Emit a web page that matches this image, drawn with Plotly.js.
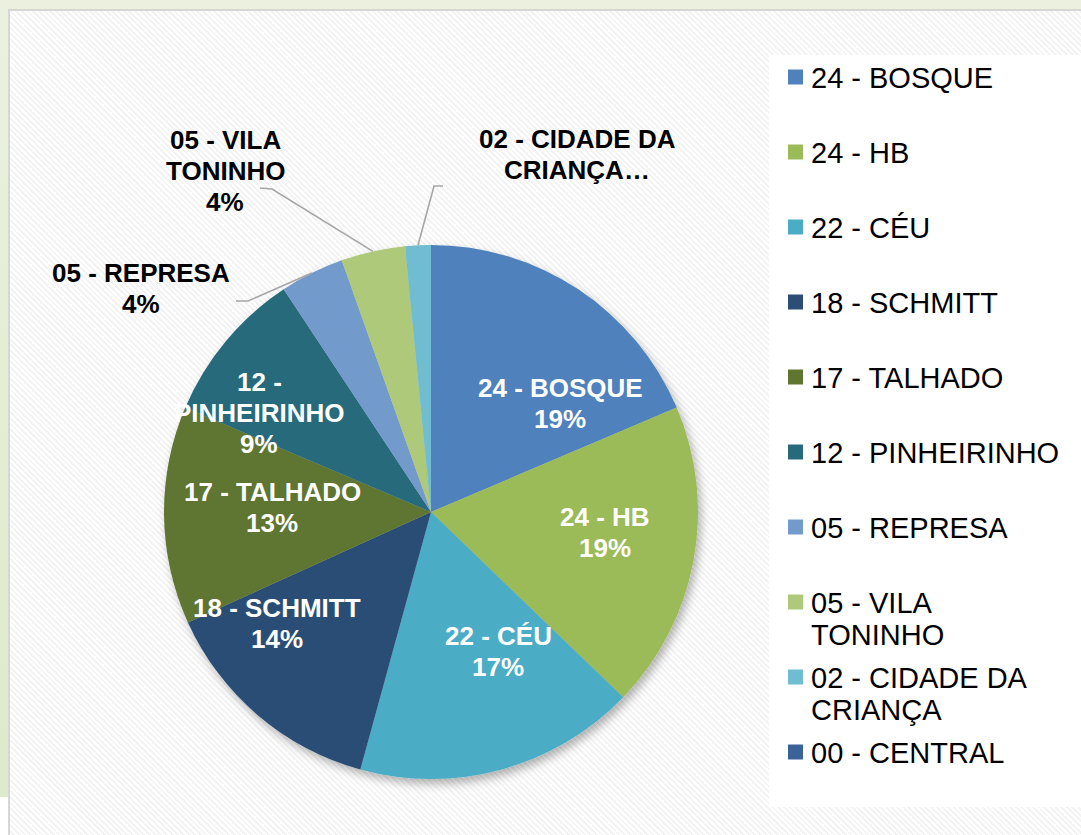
<!DOCTYPE html>
<html>
<head>
<meta charset="utf-8">
<script src="https://cdn.plot.ly/plotly-3.0.1.min.js"></script>
<style>
  html, body { margin: 0; padding: 0; width: 1081px; height: 835px; overflow: hidden; background: #ffffff; }
  #bgTop { position: absolute; left: 0; top: 0; width: 1081px; height: 9px; background: #ebf1de; }
  #bgLeft { position: absolute; left: 0; top: 0; width: 8px; height: 797px; background: linear-gradient(#ebf1de, #dfe9cb); }
  #panel { position: absolute; left: 8px; top: 9px; width: 1073px; height: 826px; box-sizing: border-box;
           border-left: 2px solid #d6d6d6; border-top: 2px solid #d6d6d6;
           background: repeating-linear-gradient(45deg, #ffffff 0px, #ffffff 2px, #f3f3f3 2px, #f3f3f3 4px); }
  #chart { position: absolute; left: 0; top: 0; width: 1081px; height: 835px; }
</style>
</head>
<body>
<div id="bgTop"></div>
<div id="bgLeft"></div>
<div id="panel"></div>
<div id="chart"></div>
<script>
// ---------------- DATA ----------------
const labels = ["24 - BOSQUE", "24 - HB", "22 - CÉU", "18 - SCHMITT", "17 - TALHADO",
                "12 - PINHEIRINHO", "05 - REPRESA", "05 - VILA TONINHO",
                "02 - CIDADE DA CRIANÇA", "00 - CENTRAL"];
const values = [24, 24, 22, 18, 17, 12, 5, 5, 2, 0];
const legendText = ["24 - BOSQUE", "24 - HB", "22 - CÉU", "18 - SCHMITT", "17 - TALHADO",
                    "12 - PINHEIRINHO", "05 - REPRESA", "05 - VILA<br>TONINHO",
                    "02 - CIDADE DA<br>CRIANÇA", "00 - CENTRAL"];
const sliceText = ["24 - BOSQUE", "24 - HB", "22 - CÉU", "18 - SCHMITT", "17 - TALHADO",
                   "12 -<br>PINHEIRINHO", "05 - REPRESA", "05 - VILA<br>TONINHO",
                   "02 - CIDADE DA<br>CRIANÇA…", ""];
const showPercent = [true, true, true, true, true, true, true, true, false, false];

// ---------------- STYLE / LAYOUT ----------------
const colors = ["#4f81bd", "#9bbb59", "#4bacc6", "#2c4d75", "#5f7530",
                "#276a7c", "#729aca", "#afc97a", "#6fbdd1", "#3a6499"];
const W = 1081, H = 835;
const CX = 431, CY = 512, R = 267;           // pie centre / radius in px
const inside = [true, true, true, true, true, true, false, false, false, false];
const labelPos = [[560, 403.5], [605, 532.5], [498, 651], [277, 623.5], [272, 507],
                  [259, 413], [141, 288.5], [225, 171], [577, 154.5], null];
const leaderElbow = {6: [[248, 301], [236, 301]], 7: [[272, 189], [260, 188]], 8: [[434, 186], [443, 186]]};
const FONT = "Liberation Sans, Arial, sans-serif";
const px = x => x / W;
const py = y => 1 - y / H;

const total = values.reduce((a, b) => a + b, 0);
const annotations = [];
const shapes = [];

function addLines(text, x, yCenter, spacing, opts) {
  const lines = text.split("<br>");
  lines.forEach((ln, k) => {
    const y = yCenter + (k - (lines.length - 1) / 2) * spacing;
    annotations.push(Object.assign({
      xref: "paper", yref: "paper", x: px(x), y: py(y), text: ln, showarrow: false,
      yanchor: "middle"
    }, opts));
  });
}

// pie labels
values.forEach((v, i) => {
  if (!labelPos[i]) return;
  let t = sliceText[i];
  if (showPercent[i]) t += "<br>" + Math.round(v / total * 100) + "%";
  addLines(t, labelPos[i][0], labelPos[i][1], 31, {
    xanchor: "center",
    font: {family: FONT, size: 26, weight: 700, color: inside[i] ? "#ffffff" : "#000000"}
  });
});

// leader lines (attached at slice mid-angle on the rim)
let cum = 0;
values.forEach((v, i) => {
  const mid = (cum + v / 2) / total * 2 * Math.PI;
  cum += v;
  if (!leaderElbow[i]) return;
  const sx = CX + R * Math.sin(mid), sy = CY - R * Math.cos(mid);
  const [e1, e2] = leaderElbow[i];
  shapes.push({
    type: "path", xref: "paper", yref: "paper", layer: "above",
    path: `M ${px(sx)} ${py(sy)} L ${px(e1[0])} ${py(e1[1])} L ${px(e2[0])} ${py(e2[1])}`,
    line: {color: "#a6a6a6", width: 1.6}
  });
});

// legend box + entries
shapes.push({type: "rect", xref: "paper", yref: "paper", layer: "below",
             x0: px(769), x1: px(1081), y0: py(55), y1: py(807),
             fillcolor: "#ffffff", line: {width: 0}});
labels.forEach((lab, i) => {
  const yc = 77 + i * 75;
  shapes.push({type: "rect", xref: "paper", yref: "paper", layer: "above",
               x0: px(788), x1: px(803), y0: py(yc - 7.5), y1: py(yc + 7.5),
               fillcolor: colors[i], line: {width: 0}});
  const lines = legendText[i].split("<br>");
  lines.forEach((ln, k) => {
    annotations.push({
      xref: "paper", yref: "paper", x: px(809), y: py(yc + 1 + k * 32), text: ln,
      showarrow: false, xanchor: "left", yanchor: "middle",
      font: {family: FONT, size: 29, color: "#000000"}
    });
  });
});

const data = [{
  type: "pie",
  labels: labels,
  values: values,
  sort: false,
  direction: "clockwise",
  rotation: 0,
  textinfo: "none",
  hoverinfo: "skip",
  marker: {colors: colors, line: {width: 0}},
  domain: {x: [px(CX - R), px(CX + R)], y: [py(CY + R), py(CY - R)]},
  showlegend: false
}];

const layout = {
  width: W, height: H,
  margin: {l: 0, r: 0, t: 0, b: 0},
  paper_bgcolor: "rgba(0,0,0,0)",
  plot_bgcolor: "rgba(0,0,0,0)",
  showlegend: false,
  annotations: annotations,
  shapes: shapes
};

const gd = document.getElementById("chart");
Plotly.newPlot(gd, data, layout, {staticPlot: true, displayModeBar: false}).then(() => {
  const ns = "http://www.w3.org/2000/svg";
  const svg = gd.querySelector("svg.main-svg");
  let defs = svg.querySelector("defs");
  if (!defs) { defs = document.createElementNS(ns, "defs"); svg.insertBefore(defs, svg.firstChild); }
  const f = document.createElementNS(ns, "filter");
  f.setAttribute("id", "pieShadow");
  f.setAttribute("x", "-20%"); f.setAttribute("y", "-20%");
  f.setAttribute("width", "140%"); f.setAttribute("height", "140%");
  const ds = document.createElementNS(ns, "feDropShadow");
  ds.setAttribute("dx", "3"); ds.setAttribute("dy", "5");
  ds.setAttribute("stdDeviation", "5");
  ds.setAttribute("flood-color", "#000000"); ds.setAttribute("flood-opacity", "0.3");
  f.appendChild(ds); defs.appendChild(f);
  const pl = gd.querySelector(".pielayer");
  if (pl) pl.setAttribute("filter", "url(#pieShadow)");
});
</script>
</body>
</html>
